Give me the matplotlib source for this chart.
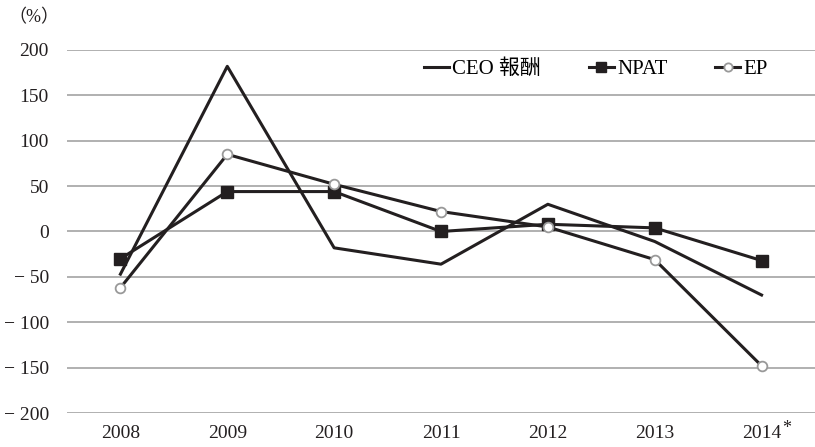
import matplotlib
matplotlib.use("Agg")
import matplotlib.pyplot as plt

plt.rcParams['font.family'] = ['Liberation Serif', 'Noto Sans CJK JP']

years = ['2008', '2009', '2010', '2011', '2012', '2013', '2014']
ceo = [-47, 182, -18, -36, 30, -11, -70]
npat = [-30, 44, 44, 0, 8, 4, -32]
ep = [-62, 85, 52, 22, 5, -31, -148]
yticks = [200, 150, 100, 50, 0, -50, -100, -150, -200]

fig = plt.figure(figsize=(8.15, 4.47), dpi=100)
ax = fig.add_axes([67/815, 1-413/447, 1-67/815, (413-50)/447])

ink = '#231f20'
x = list(range(len(years)))
ax.plot(x, ceo, color=ink, lw=2.2, label='CEO 報酬', zorder=3)
ax.plot(x, npat, color=ink, lw=2.2, marker='s', ms=8,
        mfc=ink, mec=ink, label='NPAT', zorder=4)
ax.plot(x, ep, color=ink, lw=2.2, marker='o', ms=7,
        mfc='white', mec='#999999', mew=1.3, label='EP', zorder=5)

ax.set_xlim(-0.5, len(years) - 0.5)
ax.set_ylim(-200, 200)
ax.set_yticks(yticks)
ax.set_yticklabels([str(v) if v >= 0 else '\u2212 ' + str(-v) for v in yticks])
ax.set_xticks(x)
ax.set_xticklabels(years)
ax.tick_params(length=0, labelsize=14, colors=ink)
ax.tick_params(axis='y', pad=13)
ax.tick_params(axis='x', pad=9)
for s in ax.spines.values():
    s.set_visible(False)
ax.grid(axis='y', color='#aaaaaa', lw=1.3)
ax.set_axisbelow(True)

# asterisk on the last year
ax.annotate('*', xy=(x[-1], 0), xycoords=('data', 'axes fraction'),
            xytext=(15, -5), textcoords='offset points',
            fontsize=13, color=ink, ha='left', va='top')

fig.text(8/815, 1-18/447, '（%）', fontsize=13, va='center', color=ink)

leg = ax.legend(loc='upper right', bbox_to_anchor=(0.962, 1.025), ncol=3, frameon=False,
                fontsize=15, handlelength=1.2, handletextpad=0.15, columnspacing=2.3,
                markerscale=0.85)

fig.savefig('out.png', dpi=100)
